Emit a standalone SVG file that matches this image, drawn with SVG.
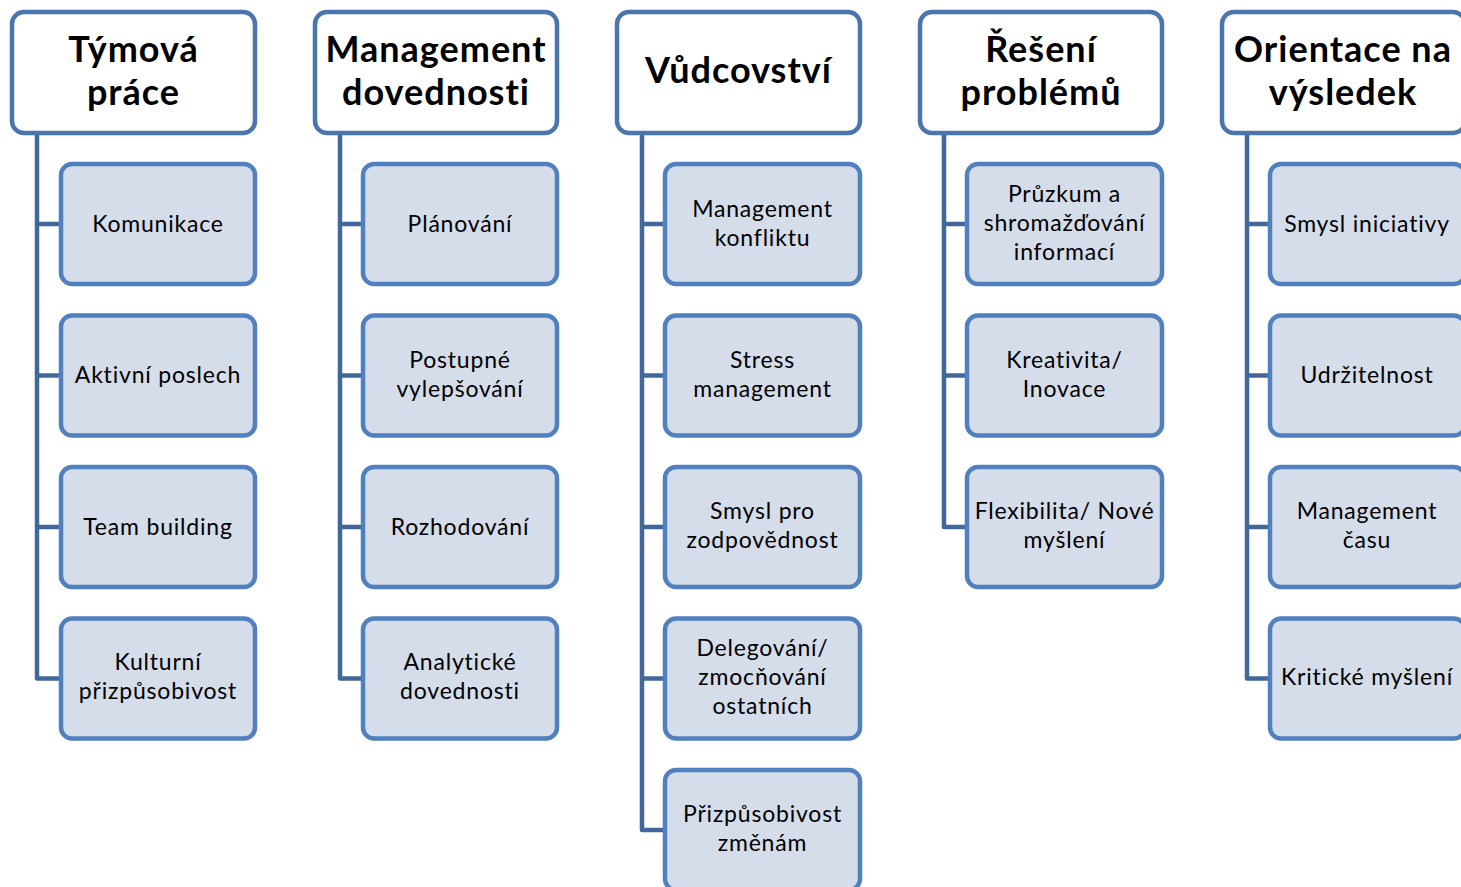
<svg xmlns="http://www.w3.org/2000/svg" width="1461" height="887" viewBox="0 0 1461 887">
<style>
.hd rect{fill:#ffffff;stroke:#4a76ad;stroke-width:4.5}
.ch rect{fill:#d5dcea;stroke:#5080bd;stroke-width:4.5}
.hd text{font-family:Lato,"Liberation Sans",sans-serif;font-weight:bold;font-size:36px;letter-spacing:1px;fill:#000;text-anchor:middle}
.ch text{font-family:Lato,"Liberation Sans",sans-serif;font-size:23px;letter-spacing:0.8px;fill:#000;text-anchor:middle}
.cn path{fill:none;stroke:#41679b;stroke-width:4.5;stroke-linejoin:round}
</style>
<rect width="1461" height="887" fill="#ffffff"/>
<g class="cn" id="connectors">
<path d="M37 133V678.5H61M37 224H61M37 375.5H61M37 527H61"/>
<path d="M340 133V678.5H363M340 224H363M340 375.5H363M340 527H363"/>
<path d="M642 133V830H665M642 224H665M642 375.5H665M642 527H665M642 678.5H665"/>
<path d="M944 133V527H967M944 224H967M944 375.5H967"/>
<path d="M1247 133V678.5H1270M1247 224H1270M1247 375.5H1270M1247 527H1270"/>
</g>
<g class="hd" id="h1"><rect x="12" y="12" width="243" height="121" rx="12"/><text x="133.5" y="62">Týmová</text><text x="133.5" y="105">práce</text></g>
<g class="hd" id="h2"><rect x="315" y="12" width="242" height="121" rx="12"/><text x="436" y="62">Management</text><text x="436" y="105">dovednosti</text></g>
<g class="hd" id="h3"><rect x="617" y="12" width="243" height="121" rx="12"/><text x="738.5" y="83">Vůdcovství</text></g>
<g class="hd" id="h4"><rect x="920" y="12" width="242" height="121" rx="12"/><text x="1041" y="62">Řešení</text><text x="1041" y="105">problémů</text></g>
<g class="hd" id="h5"><rect x="1222" y="12" width="243" height="121" rx="12"/><text x="1343" y="62">Orientace na</text><text x="1343" y="105">výsledek</text></g>

<g class="ch" id="c1-1"><rect x="61" y="164" width="194" height="120" rx="11"/><text x="158" y="232">Komunikace</text></g>
<g class="ch" id="c1-2"><rect x="61" y="315.5" width="194" height="120" rx="11"/><text x="158" y="383">Aktivní poslech</text></g>
<g class="ch" id="c1-3"><rect x="61" y="467" width="194" height="120" rx="11"/><text x="158" y="535">Team building</text></g>
<g class="ch" id="c1-4"><rect x="61" y="618.5" width="194" height="120" rx="11"/><text x="158" y="670">Kulturní</text><text x="158" y="699">přizpůsobivost</text></g>

<g class="ch" id="c2-1"><rect x="363" y="164" width="194" height="120" rx="11"/><text x="460" y="232">Plánování</text></g>
<g class="ch" id="c2-2"><rect x="363" y="315.5" width="194" height="120" rx="11"/><text x="460" y="368">Postupné</text><text x="460" y="397">vylepšování</text></g>
<g class="ch" id="c2-3"><rect x="363" y="467" width="194" height="120" rx="11"/><text x="460" y="535">Rozhodování</text></g>
<g class="ch" id="c2-4"><rect x="363" y="618.5" width="194" height="120" rx="11"/><text x="460" y="670">Analytické</text><text x="460" y="699">dovednosti</text></g>

<g class="ch" id="c3-1"><rect x="665" y="164" width="195" height="120" rx="11"/><text x="762.5" y="217">Management</text><text x="762.5" y="246">konfliktu</text></g>
<g class="ch" id="c3-2"><rect x="665" y="315.5" width="195" height="120" rx="11"/><text x="762.5" y="368">Stress</text><text x="762.5" y="397">management</text></g>
<g class="ch" id="c3-3"><rect x="665" y="467" width="195" height="120" rx="11"/><text x="762.5" y="519">Smysl pro</text><text x="762.5" y="548">zodpovědnost</text></g>
<g class="ch" id="c3-4"><rect x="665" y="618.5" width="195" height="120" rx="11"/><text x="762.5" y="656">Delegování/</text><text x="762.5" y="685">zmocňování</text><text x="762.5" y="714">ostatních</text></g>
<g class="ch" id="c3-5"><rect x="665" y="770" width="195" height="120" rx="11"/><text x="762.5" y="822">Přizpůsobivost</text><text x="762.5" y="851">změnám</text></g>

<g class="ch" id="c4-1"><rect x="967" y="164" width="195" height="120" rx="11"/><text x="1064.5" y="202">Průzkum a</text><text x="1064.5" y="231">shromažďování</text><text x="1064.5" y="260">informací</text></g>
<g class="ch" id="c4-2"><rect x="967" y="315.5" width="195" height="120" rx="11"/><text x="1064.5" y="368">Kreativita/</text><text x="1064.5" y="397">Inovace</text></g>
<g class="ch" id="c4-3"><rect x="967" y="467" width="195" height="120" rx="11"/><text x="1064.5" y="519">Flexibilita/ Nové</text><text x="1064.5" y="548">myšlení</text></g>

<g class="ch" id="c5-1"><rect x="1270" y="164" width="195" height="120" rx="11"/><text x="1367" y="232">Smysl iniciativy</text></g>
<g class="ch" id="c5-2"><rect x="1270" y="315.5" width="195" height="120" rx="11"/><text x="1367" y="383">Udržitelnost</text></g>
<g class="ch" id="c5-3"><rect x="1270" y="467" width="195" height="120" rx="11"/><text x="1367" y="519">Management</text><text x="1367" y="548">času</text></g>
<g class="ch" id="c5-4"><rect x="1270" y="618.5" width="195" height="120" rx="11"/><text x="1367" y="685">Kritické myšlení</text></g>
</svg>
